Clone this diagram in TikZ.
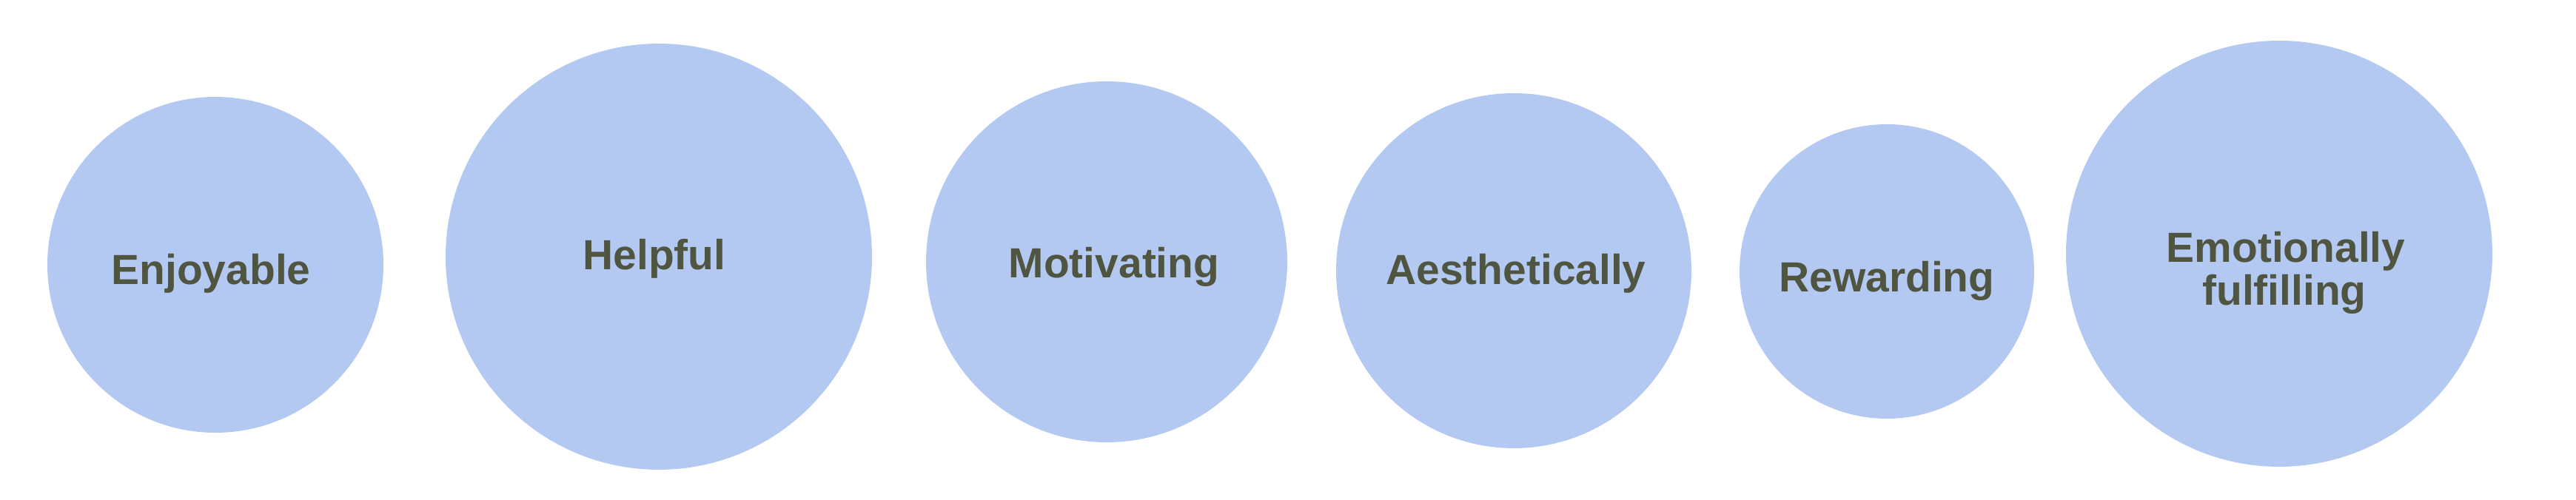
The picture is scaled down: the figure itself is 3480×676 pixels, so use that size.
\documentclass[tikz,border=0pt]{standalone}
\usepackage{fontspec}
\setmainfont{Liberation Sans}
\usepackage{tikz}
\usepackage{xcolor}
\usetikzlibrary{positioning}
\definecolor{bubblefill}{HTML}{B4C9F1}
\definecolor{wordcol}{HTML}{4F5540}
\tikzset{
    bubble/.style={circle, fill=bubblefill, inner sep=0pt},
    word/.style={anchor=base, text=wordcol, font=\fontsize{16.2}{20}\selectfont\bfseries, align=center}
}

\begin{document}
\begin{tikzpicture}[x=0.1mm, y=-0.1mm]
                        \useasboundingbox (0, 0) rectangle (3480, 676);
                        \node[bubble, minimum size=45.4mm] (enj) at (291, 358) {};
                        \node[bubble, minimum size=57.6mm] (hlp) at (890, 347) {};
                        \node[bubble, minimum size=48.8mm] (mot) at (1495, 354) {};
                        \node[bubble, minimum size=48.0mm] (aes) at (2045, 366) {};
                        \node[bubble, minimum size=39.8mm] (rew) at (2549, 367) {};
                        \node[bubble, minimum size=57.6mm] (emo) at (3079, 343) {};
                        \node[word] (enjt) at (285, 385) {Enjoyable};
                        \node[word] (hlpt) at (884, 365) {Helpful};
                        \node[word] (mott) at (1505, 376) {Motivating};
                        \node[word] (aest) at (2048, 385) {Aesthetically};
                        \node[word] (rewt) at (2549, 395) {Rewarding};
                        \node[word] (emot) at (3088, 355) {Emotionally};
                        \node[word] (fult) at (3086, 413) {fulfilling};
                    \end{tikzpicture}
\end{document}
